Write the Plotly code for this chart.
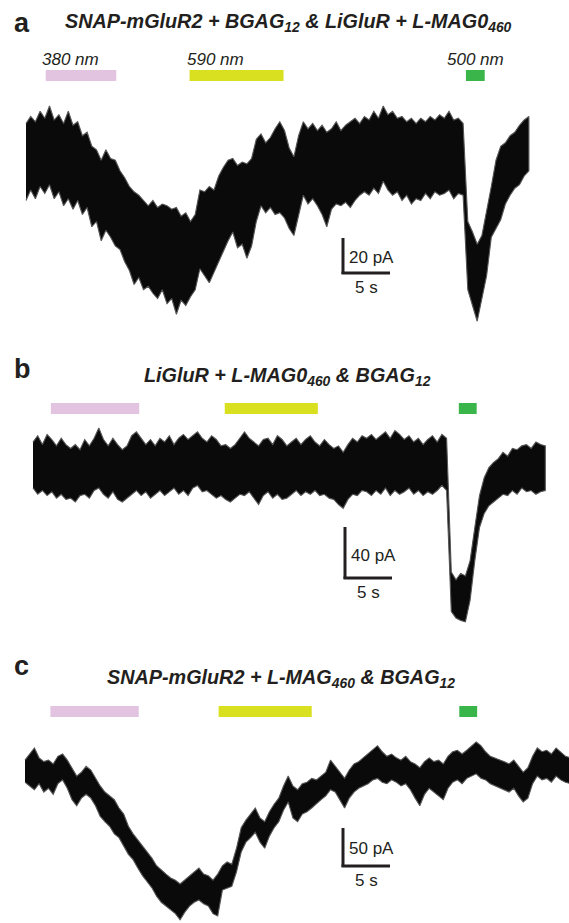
import plotly.graph_objects as go

# ---------------- data (time in s, current in pA) ----------------
DT = 0.5  # sampling of the envelope readings (s)

# Panel a: SNAP-mGluR2 + BGAG12 & LiGluR + L-MAG0460
a_top = [18, 22, 19, 25, 21, 28, 20, 23, 18, 25, 17, 19, 11, 13, 5, 3, -3, 3, -2, -3,
         -9, -13, -18, -21, -23, -26, -29, -26, -30, -28, -29, -31, -30, -35, -33, -38, -34, -20, -21, -18,
         -20, -12, -7, -3, -2, -6, -4, -5, -2, 9, 12, 7, 10, 15, 19, 14, 4, -1, 11, 19,
         15, 18, 14, 17, 13, 15, 19, 14, 17, 19, 21, 18, 22, 20, 25, 21, 28, 23, 25, 21,
         22, 19, 21, 18, 21, 19, 22, 20, 23, 21, 25, 20, 21, 18, -38, -44, -51, -46, -33, -18,
         -3, 5, 7, 11, 13, 17, 20, 22]
a_bot = [-26, -20, -25, -18, -22, -17, -25, -21, -29, -25, -31, -26, -34, -30, -41, -38, -49, -43, -47, -52,
         -54, -61, -66, -74, -70, -77, -75, -79, -82, -77, -85, -82, -91, -83, -86, -81, -77, -65, -69, -73,
         -66, -61, -55, -49, -44, -53, -51, -59, -52, -38, -29, -33, -30, -34, -33, -36, -42, -46, -34, -23,
         -28, -25, -29, -34, -41, -31, -28, -29, -27, -30, -26, -23, -21, -23, -19, -22, -15, -20, -23, -21,
         -26, -23, -28, -25, -26, -22, -25, -21, -23, -22, -20, -25, -22, -23, -77, -86, -95, -83, -69, -47,
         -42, -37, -28, -23, -19, -17, -12, -9]

# Panel b: LiGluR + L-MAG0460 & BGAG12
b_top = [18, 23, 16, 24, 20, 15, 21, 16, 13, 16, 12, 20, 15, 21, 29, 20, 15, 21, 16, 12,
         15, 23, 26, 21, 16, 20, 15, 21, 18, 23, 16, 21, 24, 20, 23, 26, 21, 18, 23, 20,
         15, 16, 13, 16, 21, 26, 21, 18, 15, 20, 21, 16, 23, 20, 15, 18, 21, 16, 20, 23,
         18, 15, 20, 16, 13, 15, 10, 16, 21, 18, 23, 21, 24, 20, 23, 26, 21, 27, 24, 20,
         23, 18, 21, 16, 20, 23, 18, 24, 21, -84, -90, -85, -87, -75, -49, -24, -10, -2, 2, 5,
         10, 7, 13, 12, 15, 16, 13, 18, 16, 15]
b_bot = [-18, -23, -20, -24, -21, -26, -23, -27, -26, -29, -24, -23, -26, -20, -18, -23, -26, -21, -27, -29,
         -26, -23, -20, -24, -21, -26, -23, -20, -24, -21, -18, -23, -20, -24, -18, -16, -21, -20, -23, -26,
         -24, -27, -29, -26, -23, -24, -21, -26, -31, -24, -21, -26, -23, -27, -26, -23, -20, -24, -21, -23,
         -20, -24, -23, -26, -27, -31, -34, -27, -23, -24, -20, -21, -24, -20, -23, -18, -24, -20, -23, -21,
         -18, -23, -20, -24, -21, -23, -20, -16, -20, -115, -120, -122, -123, -106, -75, -49, -38, -32, -29, -26,
         -23, -24, -20, -23, -18, -21, -20, -23, -21, -20]

# Panel c: SNAP-mGluR2 + L-MAG460 & BGAG12
c_top = [13, 21, 29, 16, 11, 13, 8, 18, 21, 13, 3, -8, -3, 5, 0, -11, -21, -29, -34, -39,
         -50, -58, -74, -84, -92, -100, -108, -116, -126, -132, -137, -142, -145, -150, -145, -139, -134, -129, -137, -139,
         -145, -137, -126, -121, -124, -103, -76, -66, -58, -50, -63, -68, -55, -45, -37, -21, -8, -21, -26, -18,
         -16, -11, -13, -8, -3, 13, 5, -3, -11, 0, 8, 11, 16, 21, 26, 32, 24, 18, 21, 16,
         13, 18, 11, 8, 3, 11, 16, 11, 13, 8, 18, 24, 26, 21, 26, 32, 37, 32, 24, 18,
         16, 13, 11, 8, 13, 5, -3, 3, 18, 29, 24, 26, 21, 29, 24, 18, 16]
c_bot = [-16, -21, -26, -18, -29, -24, -32, -18, -13, -24, -39, -47, -37, -32, -37, -47, -61, -68, -74, -84,
         -89, -100, -111, -118, -129, -139, -147, -155, -166, -174, -179, -184, -189, -197, -187, -179, -174, -171, -176, -179,
         -189, -192, -158, -155, -153, -134, -108, -95, -89, -82, -95, -103, -87, -76, -68, -53, -42, -63, -68, -58,
         -55, -50, -45, -39, -34, -26, -29, -39, -50, -37, -29, -24, -21, -18, -13, -11, -16, -18, -13, -16,
         -21, -18, -26, -37, -47, -32, -24, -29, -34, -39, -24, -16, -13, -18, -11, -8, -5, -11, -13, -18,
         -21, -24, -26, -29, -24, -34, -42, -37, -18, -8, -13, -11, -16, -8, -13, -16, -18]

# light stimuli (on, off) in s
a_light = {"380": (2.1, 9.6), "590": (17.4, 27.4), "500": (46.8, 48.8)}
b_light = {"380": (1.9, 11.3), "590": (20.4, 30.3), "500": (45.3, 47.2)}
c_light = {"380": (2.7, 12.1), "590": (20.6, 30.5), "500": (46.2, 48.1)}

titles = ["SNAP-mGluR2 + BGAG<sub>12</sub> &amp; LiGluR + L-MAG0<sub>460</sub>",
          "LiGluR + L-MAG0<sub>460</sub> &amp; BGAG<sub>12</sub>",
          "SNAP-mGluR2 + L-MAG<sub>460</sub> &amp; BGAG<sub>12</sub>"]
panel_letters = ["a", "b", "c"]
scale_pA = [20, 40, 50]
scale_s = 5
wavelength_labels = ["380 nm", "590 nm", "500 nm"]

# ---------------- layout helpers ----------------
W, H = 569, 923
PX_PER_S = 9.4
FONT = "Liberation Sans, Arial, sans-serif"
INK = "#231f20"
COL = {"380": "#e2c4e0", "590": "#d8e01f", "500": "#39b54a"}

def xp(px):
    return px / W

def yp(px):
    return 1 - px / H

panels = [
    dict(top=a_top, bot=a_bot, light=a_light, x0=26, base=155, ppa=1.75, dom=(92, 340),
         bar=(70, 81), title_x=63, title_y=22, letter_y=23, sb=(343, 273)),
    dict(top=b_top, bot=b_bot, light=b_light, x0=33, base=465, ppa=1.275, dom=(418, 640),
         bar=(403, 414), title_x=142, title_y=376, letter_y=369, sb=(345, 578)),
    dict(top=c_top, bot=c_bot, light=c_light, x0=25, base=770, ppa=0.76, dom=(730, 923),
         bar=(706, 717), title_x=105, title_y=678, letter_y=666, sb=(343, 866)),
]

fig = go.Figure()
shapes = []
annots = []

for k, p in enumerate(panels):
    n = len(p["top"])
    t = [DT * i for i in range(n)]
    sfx = "" if k == 0 else str(k + 1)
    xa, ya = "x" + sfx, "y" + sfx
    fig.add_trace(go.Scatter(
        x=t + t[::-1], y=p["top"] + p["bot"][::-1],
        fill="toself", fillcolor="#0a0a0a", mode="lines",
        line=dict(color="#555555", width=1.1), hoverinfo="skip",
        xaxis=xa, yaxis=ya, showlegend=False))
    xr = [-p["x0"] / PX_PER_S, (W - p["x0"]) / PX_PER_S]
    d0, d1 = p["dom"]
    yr = [(p["base"] - d1) / p["ppa"], (p["base"] - d0) / p["ppa"]]
    fig.update_layout(**{
        "xaxis" + sfx: dict(domain=[0, 1], range=xr, visible=False, fixedrange=True, anchor=ya),
        "yaxis" + sfx: dict(domain=[yp(d1), yp(d0)], range=yr, visible=False, fixedrange=True, anchor=xa),
    })
    # light bars
    for key, (on, off) in p["light"].items():
        shapes.append(dict(type="rect", xref=xa, yref="paper", x0=on, x1=off,
                           y0=yp(p["bar"][1]), y1=yp(p["bar"][0]),
                           fillcolor=COL[key], line=dict(width=0)))
    # scale bar
    sbt = (p["sb"][0] - p["x0"]) / PX_PER_S
    sbv = (p["base"] - p["sb"][1]) / p["ppa"]
    shapes.append(dict(type="line", xref=xa, yref=ya, x0=sbt, x1=sbt, y0=sbv - 0.8 / p["ppa"],
                       y1=sbv + scale_pA[k], line=dict(color=INK, width=3)))
    shapes.append(dict(type="line", xref=xa, yref=ya, x0=sbt - 1.5 / PX_PER_S, x1=sbt + scale_s,
                       y0=sbv, y1=sbv, line=dict(color=INK, width=3)))
    annots.append(dict(xref=xa, yref=ya, x=sbt + 0.45, y=sbv + scale_pA[k] * 0.45,
                       text=f"{scale_pA[k]} pA", showarrow=False, xanchor="left", yanchor="middle",
                       font=dict(family=FONT, size=17, color=INK)))
    annots.append(dict(xref=xa, yref=ya, x=sbt + scale_s / 2, y=sbv - 14 / p["ppa"],
                       text=f"{scale_s} s", showarrow=False, xanchor="center", yanchor="middle",
                       font=dict(family=FONT, size=17, color=INK)))
    # title and letter
    annots.append(dict(xref="paper", yref="paper", x=xp(p["title_x"]), y=yp(p["title_y"]),
                       text="<b><i>" + titles[k] + "</i></b>", showarrow=False,
                       xanchor="left", yanchor="middle",
                       font=dict(family=FONT, size=19.8, color=INK)))
    annots.append(dict(xref="paper", yref="paper", x=xp(12), y=yp(p["letter_y"]),
                       text="<b>" + panel_letters[k] + "</b>", showarrow=False,
                       xanchor="left", yanchor="middle",
                       font=dict(family=FONT, size=27, color=INK)))

# wavelength labels (panel a only)
for lab, px in zip(wavelength_labels, [40, 185, 445]):
    annots.append(dict(xref="paper", yref="paper", x=xp(px), y=yp(60), text="<i>" + lab + "</i>",
                       showarrow=False, xanchor="left", yanchor="middle",
                       font=dict(family=FONT, size=17, color=INK)))

fig.update_layout(width=W, height=H, margin=dict(l=0, r=0, t=0, b=0),
                  paper_bgcolor="white", plot_bgcolor="white",
                  shapes=shapes, annotations=annots, showlegend=False)
fig.write_html("out.html", config={"displayModeBar": False, "staticPlot": True},
               post_script="document.body.style.margin='0px';")
